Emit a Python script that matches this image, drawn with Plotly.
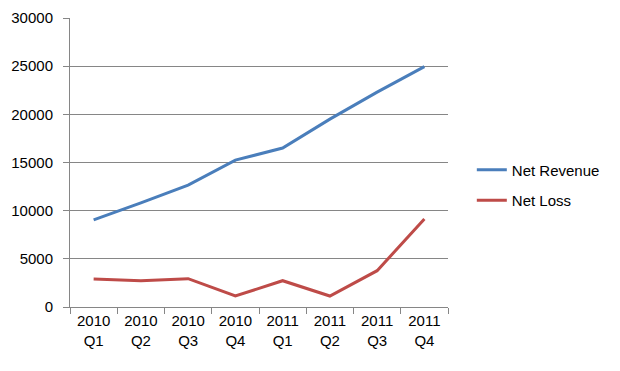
import plotly.graph_objects as go

categories = ["2010<br>Q1", "2010<br>Q2", "2010<br>Q3", "2010<br>Q4",
              "2011<br>Q1", "2011<br>Q2", "2011<br>Q3", "2011<br>Q4"]
net_revenue = [9050, 10800, 12650, 15250, 16500, 19500, 22300, 24950]
net_loss = [2900, 2730, 2940, 1140, 2730, 1140, 3770, 9130]
y_ticks = [0, 5000, 10000, 15000, 20000, 25000, 30000]

font = dict(family="Liberation Sans, Arial, sans-serif", size=15, color="#000000")

fig = go.Figure()
fig.add_trace(go.Scatter(x=categories, y=net_revenue, mode="lines", name="Net Revenue",
                         line=dict(color="#4A7EBB", width=3), legendgroup="a"))
fig.add_trace(go.Scatter(x=categories, y=net_loss, mode="lines", name="Net Loss",
                         line=dict(color="#BE4B48", width=3), legendgroup="b"))

# page body has an 8px default margin; figure sized/offset to compensate
fig.update_layout(
    width=612, height=363,
    margin=dict(l=62, r=172, t=10, b=64, autoexpand=False),
    paper_bgcolor="white", plot_bgcolor="white",
    font=font,
    showlegend=True,
    legend=dict(x=1.063, xanchor="left", y=0.422, yanchor="middle",
                tracegroupgap=8, font=font, bgcolor="rgba(0,0,0,0)"),
    xaxis=dict(type="category", tickson="boundaries", ticks="outside", ticklen=6,
               range=[-0.5, 7.5], automargin=False,
               tickcolor="#868686", showline=True, linecolor="#868686", linewidth=1,
               showgrid=False, tickfont=font),
    yaxis=dict(range=[0, 30000], tickvals=y_ticks, ticktext=[str(v) for v in y_ticks],
               ticks="outside", ticklen=6, automargin=False,
               tickcolor="#868686", showline=True, linecolor="#868686", linewidth=1,
               showgrid=True, gridcolor="#868686", gridwidth=1, zeroline=False,
               tickfont=font, ticklabelstandoff=7),
)

fig.write_html("out.html")
